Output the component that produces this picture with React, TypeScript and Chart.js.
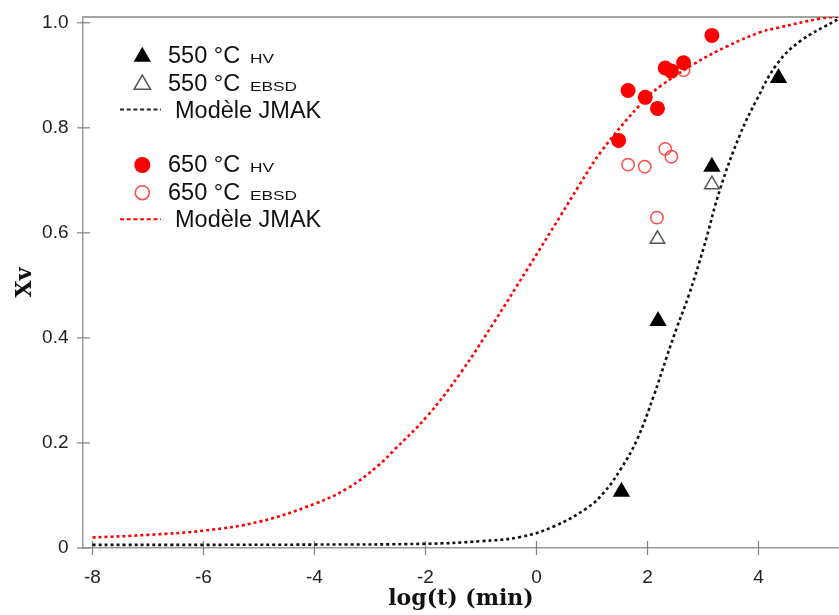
import React, { useEffect, useRef } from "react";
import { Chart, registerables } from "chart.js";

Chart.register(...registerables);

// ---- tick values ----
const xTicks = [-8, -6, -4, -2, 0, 2, 4];
const yTicks = [0, 0.2, 0.4, 0.6, 0.8, 1.0];

// ---- 550 °C ----
const hv550X = [1.53, 2.19, 3.16, 4.36];
const hv550Y = [0.107, 0.432, 0.726, 0.895];
const ebsd550X = [2.18, 3.16];
const ebsd550Y = [0.588, 0.692];
const jmak550X = [-8, -6, -4, -2, -1, -0.29, 0.31, 0.91, 1.21, 1.51, 1.81, 2.11, 2.35, 2.53, 2.74, 3.01, 3.31, 3.67, 3.97, 4.33, 4.75, 5.42];
const jmak550Y = [0.006, 0.006, 0.0065, 0.008, 0.013, 0.021, 0.041, 0.076, 0.105, 0.149, 0.206, 0.289, 0.365, 0.42, 0.48, 0.571, 0.684, 0.788, 0.854, 0.921, 0.965, 1.006];

// ---- 650 °C ----
const hv650X = [1.48, 1.65, 1.96, 2.18, 2.32, 2.43, 2.65, 3.16];
const hv650Y = [0.776, 0.871, 0.858, 0.837, 0.914, 0.908, 0.924, 0.976];
const ebsd650X = [1.65, 1.95, 2.32, 2.43, 2.17, 2.65];
const ebsd650Y = [0.73, 0.726, 0.76, 0.745, 0.629, 0.91];
const jmak650X = [-8, -7, -6, -5, -4, -3.4, -2.85, -2.57, -1.97, -1.37, -0.77, -0.17, 0.43, 0.76, 1.18, 1.9, 2.23, 2.83, 3.43, 4.03, 4.33, 5.11, 5.46];
const jmak650Y = [0.02, 0.025, 0.033, 0.05, 0.084, 0.114, 0.157, 0.186, 0.251, 0.333, 0.429, 0.53, 0.632, 0.689, 0.757, 0.848, 0.879, 0.921, 0.955, 0.982, 0.99, 1.008, 1.012];

// ---- legend labels ----
const legendMain = ["550 °C", "550 °C", "Modèle JMAK", "650 °C", "650 °C", "Modèle JMAK"];
const legendSub = ["HV", "EBSD", "", "HV", "EBSD", ""];

const pts = (xs: number[], ys: number[]) => xs.map((x, i) => ({ x, y: ys[i] }));

const W = 839;
const H = 615;

const framePlugin = {
  id: "frameAndTicks",
  beforeDatasetsDraw(chart: any) {
    const { ctx, chartArea, scales } = chart;
    ctx.save();
    ctx.strokeStyle = "#a4a4a4";
    ctx.lineWidth = 2;
    ctx.beginPath();
    ctx.moveTo(chartArea.left, chartArea.top);
    ctx.lineTo(chartArea.right, chartArea.top);
    ctx.stroke();
    ctx.strokeStyle = "#808080";
    ctx.lineWidth = 1.2;
    yTicks.forEach((v) => {
      const y = scales.y.getPixelForValue(v);
      ctx.beginPath();
      ctx.moveTo(chartArea.left - 6, y);
      ctx.lineTo(chartArea.left + 7, y);
      ctx.stroke();
    });
    xTicks.forEach((v) => {
      const x = scales.x.getPixelForValue(v);
      ctx.beginPath();
      ctx.moveTo(x, chartArea.bottom - 7);
      ctx.lineTo(x, chartArea.bottom + 7);
      ctx.stroke();
    });
    ctx.restore();
  },
};

const legendPlugin = {
  id: "customLegend",
  afterDraw(chart: any) {
    const ctx = chart.ctx as CanvasRenderingContext2D;
    ctx.save();
    const symX = 142.3;
    const textX = 168;
    const subX = 250;
    const baselines = [63.3, 90.7, 118.3, 172.3, 200, 226.7];

    const tri = (cx: number, cy: number, r: number, fill: boolean, color: string) => {
      ctx.beginPath();
      let rad = 0;
      for (let k = 0; k < 3; k++) {
        const px = cx + Math.sin(rad) * r;
        const py = cy - Math.cos(rad) * r;
        if (k === 0) ctx.moveTo(px, py);
        else ctx.lineTo(px, py);
        rad += (2 * Math.PI) / 3;
      }
      ctx.closePath();
      if (fill) {
        ctx.fillStyle = color;
        ctx.fill();
      } else {
        ctx.strokeStyle = color;
        ctx.lineWidth = 1.5;
        ctx.stroke();
      }
    };

    tri(symX, 56.7, 10, true, "#000000");
    tri(symX, 84.5, 9.5, false, "#555555");

    ctx.setLineDash([4, 2.7]);
    ctx.lineWidth = 2;
    ctx.strokeStyle = "#222222";
    ctx.beginPath();
    ctx.moveTo(120, 109.5);
    ctx.lineTo(161, 109.5);
    ctx.stroke();
    ctx.strokeStyle = "#ff0000";
    ctx.beginPath();
    ctx.moveTo(120, 219.3);
    ctx.lineTo(161, 219.3);
    ctx.stroke();
    ctx.setLineDash([]);

    ctx.fillStyle = "#ff0000";
    ctx.beginPath();
    ctx.arc(symX, 165, 8, 0, Math.PI * 2);
    ctx.fill();
    ctx.strokeStyle = "#ff4a4a";
    ctx.lineWidth = 1.5;
    ctx.beginPath();
    ctx.arc(symX, 192.7, 7, 0, Math.PI * 2);
    ctx.stroke();

    ctx.fillStyle = "#111111";
    ctx.textBaseline = "alphabetic";
    ctx.textAlign = "left";
    legendMain.forEach((t, i) => {
      ctx.font = '23.5px "Liberation Sans", Arial, sans-serif';
      const isModel = legendSub[i] === "";
      ctx.fillText(t, isModel ? 175 : textX, baselines[i]);
      if (legendSub[i]) {
        ctx.save();
        ctx.font = '13.5px "Liberation Sans", Arial, sans-serif';
        ctx.translate(subX, baselines[i]);
        ctx.scale(1.28, 1);
        ctx.fillText(legendSub[i], 0, 0);
        ctx.restore();
      }
    });
    ctx.restore();
  },
};

const zeroPad = (s: any) => {
  s.paddingTop = 0;
  s.paddingBottom = 0;
  s.paddingLeft = 0;
  s.paddingRight = 0;
};

export default function App() {
  const ref = useRef<HTMLCanvasElement | null>(null);

  useEffect(() => {
    if (!ref.current) return;
    const tickFont = { family: '"Liberation Sans", Arial, sans-serif', size: 19 };
    const chart = new Chart(ref.current, {
      type: "scatter",
      data: {
        datasets: [
          {
            label: "550 °C HV",
            data: pts(hv550X, hv550Y),
            pointStyle: "triangle",
            pointRadius: 10,
            backgroundColor: "#000000",
            borderColor: "#000000",
            borderWidth: 0,
            order: 1,
          },
          {
            label: "550 °C EBSD",
            data: pts(ebsd550X, ebsd550Y),
            pointStyle: "triangle",
            pointRadius: 8.4,
            backgroundColor: "rgba(0,0,0,0)",
            borderColor: "#555555",
            borderWidth: 1.5,
            order: 2,
          },
          {
            label: "650 °C HV",
            data: pts(hv650X, hv650Y),
            pointStyle: "circle",
            pointRadius: 7.5,
            backgroundColor: "#ff0000",
            borderColor: "#ff0000",
            borderWidth: 0,
            order: 3,
          },
          {
            label: "650 °C EBSD",
            data: pts(ebsd650X, ebsd650Y),
            pointStyle: "circle",
            pointRadius: 6.2,
            backgroundColor: "rgba(0,0,0,0)",
            borderColor: "#ff4a4a",
            borderWidth: 1.5,
            order: 4,
          },
          {
            label: "Modèle JMAK 550",
            data: pts(jmak550X, jmak550Y),
            showLine: true,
            pointRadius: 0,
            borderColor: "#111111",
            borderWidth: 2.6,
            borderDash: [3, 3],
            tension: 0.4,
            order: 5,
          },
          {
            label: "Modèle JMAK 650",
            data: pts(jmak650X, jmak650Y),
            showLine: true,
            pointRadius: 0,
            borderColor: "#ff0000",
            borderWidth: 2.6,
            borderDash: [3, 3],
            tension: 0.4,
            order: 6,
          },
        ],
      },
      options: {
        responsive: false,
        animation: false,
        events: [],
        layout: { autoPadding: false, padding: { top: 17, right: 0, left: 0, bottom: 0 } },
        plugins: {
          legend: { display: false },
          tooltip: { enabled: false },
        },
        scales: {
          x: {
            type: "linear",
            min: -8.17,
            max: 5.45,
            afterFit: (s: any) => {
              s.height = 67;
              zeroPad(s);
            },
            afterBuildTicks: (s: any) => {
              s.ticks = xTicks.map((v) => ({ value: v }));
            },
            grid: { display: false, drawTicks: false },
            border: { display: true, color: "#9a9a9a", width: 1.5 },
            ticks: {
              padding: 18,
              color: "#222222",
              font: tickFont,
              maxRotation: 0,
              callback: (v: any) => String(v),
            },
            title: {
              display: true,
              text: "log(t) (min)",
              color: "#111111",
              font: { family: '"DejaVu Serif", serif', size: 22, weight: "bold" },
              padding: { top: 0, bottom: 3 },
            },
          },
          y: {
            type: "linear",
            min: 0,
            max: 1.011,
            afterFit: (s: any) => {
              s.width = 83;
              zeroPad(s);
            },
            afterBuildTicks: (s: any) => {
              s.ticks = yTicks.map((v) => ({ value: v }));
            },
            grid: { display: false, drawTicks: false },
            border: { display: true, color: "#9a9a9a", width: 1.5 },
            ticks: {
              padding: 14.5,
              color: "#222222",
              font: tickFont,
              callback: (v: any) => (Number(v) === 0 ? "0" : Number(v).toFixed(1)),
            },
            title: {
              display: true,
              text: "Xv",
              color: "#111111",
              font: { family: '"DejaVu Serif", serif', size: 22, weight: "bold" },
              padding: { top: 12, bottom: 0 },
            },
          },
        },
      } as any,
      plugins: [framePlugin, legendPlugin],
    });
    return () => chart.destroy();
  }, []);

  return (
    <div style={{ position: "fixed", left: 0, top: 0, width: W, height: H, background: "#ffffff" }}>
      <canvas ref={ref} width={W} height={H} style={{ display: "block", width: W, height: H }} />
    </div>
  );
}
